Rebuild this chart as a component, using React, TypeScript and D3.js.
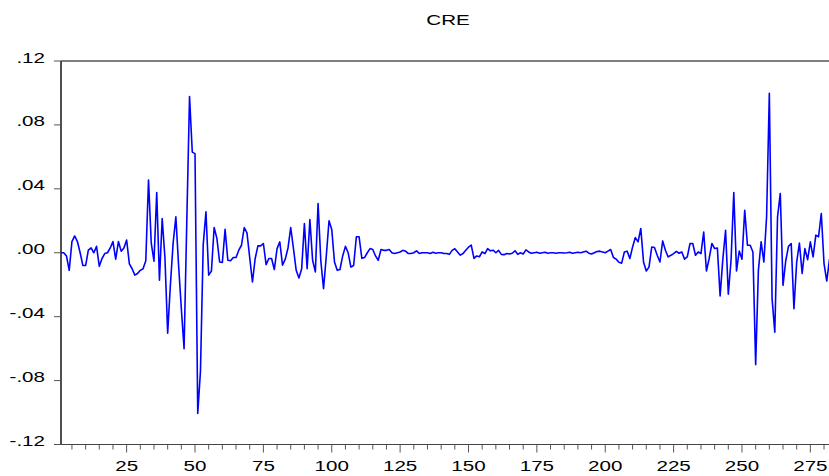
import React from "react";
import * as d3 from "d3";

const title = "CRE";

// CRE series, observations 1..282
const creValues: number[] = [
  0.0, 0.0, -0.002, -0.011, 0.007, 0.0105, 0.007, 0.0, -0.008, -0.008,
  0.0016, 0.003, 0.0, 0.004, -0.0085, -0.0036, -0.0005, 0.0, 0.003, 0.007,
  -0.004, 0.007, 0.001, 0.003, 0.008, -0.007, -0.01, -0.014, -0.013, -0.011,
  -0.01, -0.005, 0.0455, 0.006, -0.0053, 0.0377, -0.0172, 0.0214, -0.003, -0.0503,
  -0.02, 0.006, 0.0225, -0.008, -0.035, -0.06, 0.02, 0.0977, 0.063, 0.062,
  -0.1006, -0.074, 0.005, 0.0256, -0.014, -0.0115, 0.0158, 0.009, -0.0058, -0.006,
  0.0146, -0.0047, -0.005, -0.003, -0.003, 0.0016, 0.0047, 0.0158, 0.0124, -0.003,
  -0.0183, -0.0036, 0.0043, 0.0043, 0.0058, -0.0074, -0.0036, -0.0036, -0.0105, 0.0026,
  0.0068, -0.0078, -0.004, 0.003, 0.0158, 0.0026, -0.011, -0.0158, -0.01, 0.0183,
  -0.01, 0.0208, -0.0047, -0.012, 0.0308, -0.005, -0.0225, -0.002, 0.02, 0.0146,
  -0.0058, -0.011, -0.0105, -0.002, 0.004, 0.0, -0.009, -0.008, 0.01, 0.01,
  -0.0035, -0.003, 0.0, 0.0026, 0.002, -0.002, -0.0047, 0.002, 0.0015, 0.0015,
  0.002, 0.0, -0.0005, 0.0, 0.0005, 0.0015, 0.001, -0.0005, -0.0005, 0.0,
  0.0012, -0.0005, 0.0, 0.0, 0.0, -0.0005, 0.0003, -0.0003, 0.0, 0.0,
  -0.0005, -0.0005, -0.001, 0.0015, 0.0025, 0.0005, -0.0015, -0.0005, 0.0015, 0.0035,
  0.0048, -0.0035, -0.002, -0.0025, 0.0005, -0.0005, 0.0026, 0.0012, 0.0016, 0.0,
  0.0015, -0.001, -0.0012, -0.0005, -0.0008, -0.0003, 0.0012, -0.001, 0.0, -0.0008,
  0.0018, 0.0005, -0.0003, 0.0, 0.0003, -0.0003, 0.0, 0.0003, -0.0003, 0.0,
  0.0, -0.0003, 0.0, 0.0, -0.0002, 0.0, 0.0003, -0.0003, 0.0, 0.0003,
  0.0, 0.0005, 0.001, -0.0003, -0.0008, 0.0, 0.0008, 0.001, 0.0005, 0.0,
  0.001, 0.002, -0.003, -0.004, -0.006, -0.0065, 0.0005, 0.001, -0.0036, 0.0036,
  0.0095, 0.0068, 0.0152, -0.0058, -0.0114, -0.009, 0.0036, 0.0033, -0.0016, -0.0058,
  0.0074, 0.0016, -0.0026, -0.0016, -0.0005, 0.0009, -0.0003, 0.0005, -0.004, -0.0026,
  0.0058, 0.0058, -0.0016, 0.0005, -0.0005, 0.013, -0.0114, -0.0036, 0.0058, 0.0026,
  0.003, -0.027, -0.004, 0.014, -0.026, -0.0047, 0.0377, -0.0114, 0.0011, -0.004,
  0.0266, 0.0047, 0.0047, 0.0005, -0.07, -0.011, 0.0068, -0.0058, 0.0225, 0.0998,
  -0.0287, -0.0497, 0.0225, 0.0371, -0.0204, -0.005, 0.004, 0.0058, -0.035, -0.0058,
  0.006, -0.013, 0.0026, -0.0043, 0.0068, -0.0026, 0.011, 0.01, 0.0246, -0.0068,
  -0.0177, -0.004,
];

const yTicks: number[] = [0.12, 0.08, 0.04, 0.0, -0.04, -0.08, -0.12];
const yTickLabels: string[] = [".12", ".08", ".04", ".00", "-.04", "-.08", "-.12"];
const xMajorTicks: number[] = [25, 50, 75, 100, 125, 150, 175, 200, 225, 250, 275];
const xMinorTicks: number[] = d3.range(5, 285, 5).filter((v) => v % 25 !== 0);

const W = 829;
const H = 476;
const LEFT = 61;
const RIGHT = 829.5;
const TOP = 61;
const BOTTOM = 444.5;
const FONT = "'Liberation Sans', Arial, Helvetica, sans-serif";
const SX = 1.42;

export default function App() {
  const x = d3.scaleLinear().domain([1, creValues.length]).range([LEFT, RIGHT]);
  const y = d3.scaleLinear().domain([-0.12, 0.12]).range([BOTTOM, TOP]);
  const line = d3
    .line<number>()
    .x((_, i) => x(i + 1))
    .y((d) => y(d));

  return (
    <svg
      width={W}
      height={H}
      style={{ position: "absolute", left: 0, top: 0, background: "#fff" }}
    >
      <rect x={0} y={0} width={W} height={H} fill="#fff" />
      <text
        transform={`translate(${(LEFT + W) / 2 + 3},25) scale(${SX},1)`}
        textAnchor="middle"
        fontFamily={FONT}
        fontSize={14.5}
        fill="#000"
      >
        {title}
      </text>

      {/* frame */}
      <line x1={LEFT} x2={W} y1={TOP} y2={TOP} stroke="#000" strokeWidth={1} />
      <line x1={LEFT} x2={LEFT} y1={TOP} y2={BOTTOM} stroke="#222" strokeWidth={1.6} />
      <line x1={LEFT} x2={W} y1={BOTTOM} y2={BOTTOM} stroke="#444" strokeWidth={1} />

      {/* y ticks */}
      {yTicks.map((t, k) => (
        <g key={"y" + k}>
          <line x1={LEFT - 7} x2={LEFT} y1={y(t)} y2={y(t)} stroke="#555" strokeWidth={1} />
          <text
            transform={`translate(${LEFT - 16},${y(t) + 1.5}) scale(${SX},1)`}
            textAnchor="end"
            fontFamily={FONT}
            fontSize={14.5}
            fill="#000"
          >
            {yTickLabels[k]}
          </text>
        </g>
      ))}

      {/* x ticks */}
      {xMinorTicks.map((t) => (
        <line key={"m" + t} x1={x(t)} x2={x(t)} y1={BOTTOM} y2={BOTTOM + 5} stroke="#555" strokeWidth={1} />
      ))}
      {xMajorTicks.map((t) => (
        <g key={"M" + t}>
          <line x1={x(t)} x2={x(t)} y1={BOTTOM} y2={BOTTOM + 8} stroke="#555" strokeWidth={1} />
          <text
            transform={`translate(${x(t)},470.5) scale(${SX},1)`}
            textAnchor="middle"
            fontFamily={FONT}
            fontSize={14.5}
            fill="#000"
          >
            {t}
          </text>
        </g>
      ))}

      <path d={line(creValues) || ""} fill="none" stroke="#0000ff" strokeWidth={1.6} strokeLinejoin="round" />
    </svg>
  );
}
